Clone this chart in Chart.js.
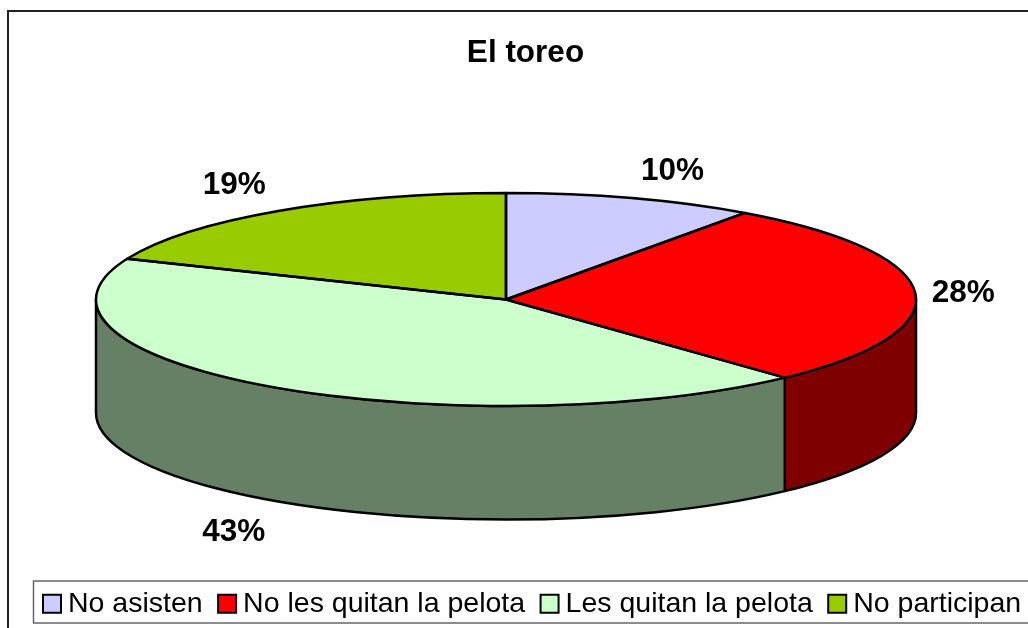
<!DOCTYPE html>
<html>
<head>
<meta charset="utf-8">
<title>El toreo</title>
<script src="https://cdn.jsdelivr.net/npm/chart.js@4"></script>
<style>
    html, body { margin: 0; padding: 0; width: 1028px; height: 628px; overflow: hidden; background: #fff; }
    canvas { display: block; }
</style>
</head>
<body>
<canvas id="toreo" width="1051" height="628" style="width:1051px;height:628px"></canvas>
<script>
const categorias = ['No asisten', 'No les quitan la pelota', 'Les quitan la pelota', 'No participan'];
const valores = [9.9, 28.2, 43.15, 18.75];
const colores = ['#ccccff', '#ff0000', '#ccffcc', '#99cc00'];
const coloresLado = ['#666680', '#7f0000', '#668066', '#4d6600'];

const fuente = '"Liberation Sans", Arial, sans-serif';

// falsa perspectiva del pastel 3D
const centroX = 506;
const centroY = 299.5;
const radio = 410;
const achatado = 106.5 / 410;
const fondo = 113.5;
const grosor = 2.5;
// desplazamiento de cada etiqueta desde el borde de su porcion
const despEtiquetas = [[41, -27], [48, 0], [-38, 32], [-44, -26]];

const pastel3d = {
    id: 'pastel3d',
    afterLayout(chart) {
        // la leyenda empieza mas a la derecha que el titulo centrado
        chart.legend.left = 27.55;
    },
    beforeDraw(chart) {
        const ctx = chart.ctx;
        ctx.save();
        ctx.fillStyle = '#fff';
        ctx.fillRect(0, 0, chart.width, chart.height);
        ctx.strokeStyle = '#222';
        ctx.lineWidth = 2;
        ctx.strokeRect(8, 11, 1100, 700);
        ctx.strokeStyle = '#666';
        ctx.lineWidth = 1.5;
        ctx.strokeRect(33.5, 581, 1100, 42);
        ctx.restore();
    },
    beforeDatasetsDraw(chart) {
        const ctx = chart.ctx;
        const arcos = chart.getDatasetMeta(0).data;
        const ry = radio * achatado;

        // lados visibles, solo la mitad delantera
        ctx.save();
        ctx.lineWidth = grosor;
        ctx.strokeStyle = '#000';
        ctx.lineJoin = 'round';
        arcos.forEach((arco, i) => {
            const ini = Math.max(arco.startAngle, 0);
            const fin = Math.min(arco.endAngle, Math.PI);
            if (ini >= fin) return;
            ctx.beginPath();
            ctx.ellipse(centroX, centroY, radio, ry, 0, ini, fin);
            ctx.ellipse(centroX, centroY + fondo, radio, ry, 0, fin, ini, true);
            ctx.closePath();
            ctx.fillStyle = coloresLado[i];
            ctx.fill();
            ctx.stroke();
        });
        ctx.restore();

        ctx.save();
        ctx.translate(centroX, centroY);
        ctx.scale(1, achatado);
        ctx.translate(-arcos[0].x, -arcos[0].y);
    },
    afterDatasetsDraw(chart) {
        const ctx = chart.ctx;
        ctx.restore();

        const arcos = chart.getDatasetMeta(0).data;
        const ry = radio * achatado;

        // contornos fuera de la escala para que el grosor sea parejo
        ctx.save();
        ctx.lineWidth = grosor;
        ctx.strokeStyle = '#000';
        ctx.lineJoin = 'round';
        arcos.forEach(arco => {
            ctx.beginPath();
            ctx.moveTo(centroX, centroY);
            ctx.ellipse(centroX, centroY, radio, ry, 0, arco.startAngle, arco.endAngle);
            ctx.closePath();
            ctx.stroke();
        });

        ctx.fillStyle = '#000';
        ctx.font = 'bold 31.5px ' + fuente;
        ctx.textAlign = 'center';
        ctx.textBaseline = 'middle';
        arcos.forEach((arco, i) => {
            const medio = (arco.startAngle + arco.endAngle) / 2;
            let x = centroX + radio * Math.cos(medio);
            let y = centroY + ry * Math.sin(medio);
            if (Math.sin(medio) > 0.3) y += fondo;
            x += despEtiquetas[i][0];
            y += despEtiquetas[i][1];
            ctx.fillText(Math.round(valores[i]) + '%', x, y);
        });
        ctx.restore();
    }
};

const ctx = document.getElementById('toreo').getContext('2d');
const chart = new Chart(ctx, {
    type: 'pie',
    data: {
        labels: categorias,
        datasets: [{
            data: valores,
            backgroundColor: colores,
            borderWidth: 0,
            radius: radio,
            clip: false
        }]
    },
    options: {
        responsive: false,
        animation: false,
        plugins: {
            title: {
                display: true,
                text: 'El toreo',
                color: '#000',
                font: { family: fuente, size: 31.5, weight: 'bold' },
                padding: { top: 34, bottom: 4 }
            },
            legend: {
                position: 'bottom',
                align: 'start',
                labels: {
                    color: '#000',
                    font: { family: fuente, size: 28.5 },
                    usePointStyle: true,
                    pointStyle: 'rect',
                    boxWidth: 3.5,
                    boxHeight: 18,
                    padding: 22.7,
                    generateLabels(chart) {
                        return Chart.overrides.doughnut.plugins.legend.labels.generateLabels(chart).map(l => {
                            l.lineWidth = 2;
                            l.strokeStyle = '#000';
                            l.pointStyle = 'rect';
                            return l;
                        });
                    }
                }
            },
            tooltip: { enabled: false }
        }
    },
    plugins: [pastel3d]
});
</script>
</body>
</html>
